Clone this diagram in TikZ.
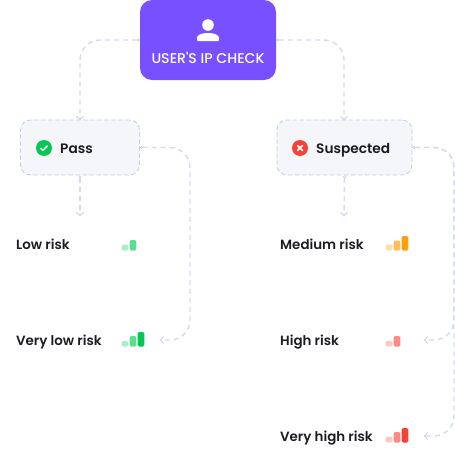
\documentclass[tikz,border=0pt]{standalone}
\usepackage{fontspec}
\setmainfont{Poppins}[UprightFont=* SemiBold]
\newfontfamily\medfont{Poppins}[UprightFont=* Medium]
\usetikzlibrary{arrows.meta}
\definecolor{purp}{HTML}{7950FF}
\definecolor{wire}{HTML}{D3DAEA}
\definecolor{edge}{HTML}{C2CCE4}
\definecolor{boxfill}{HTML}{F5F6FA}
\definecolor{ink}{HTML}{1B1C22}
\definecolor{gA}{HTML}{A9F0C6}\definecolor{gB}{HTML}{5EDD8F}\definecolor{gC}{HTML}{05C755}
\definecolor{oA}{HTML}{FFDDA8}\definecolor{oB}{HTML}{FFBE5C}\definecolor{oC}{HTML}{FF9F0A}
\definecolor{rA}{HTML}{FFC7C2}\definecolor{rB}{HTML}{FB8A80}\definecolor{rC}{HTML}{F44336}
\tikzset{
  x=1pt,y=-1pt,
  topbox/.style={fill=purp,rounded corners=12pt,minimum width=136pt,minimum height=80pt,inner sep=0pt},
  choice/.style={draw=edge,fill=boxfill,line width=0.8pt,dash pattern=on 4.5pt off 2.5pt,rounded corners=10pt,minimum height=55pt,inner sep=0pt},
  wirepath/.style={draw=wire,line width=1.4pt,dash pattern=on 5pt off 4pt,rounded corners=20pt,
    {Circle[open,fill=white,length=3pt,width=3pt,line width=0.5pt,color=edge]}-{Straight Barb[length=3pt,width=7pt,line width=0.8pt,color=edge]}},
  risk/.style={anchor=base west,inner sep=0pt,text=ink,font=\fontsize{13.4}{15}\selectfont},
  chip/.style={font=\fontsize{13.7}{15}\selectfont,text=ink,anchor=base west,inner sep=0pt},
  bar/.style={rounded corners=1.5pt},
}
\newcommand{\bars}[8]{% x, ybottom, h1,h2,h3, c1,c2,c3
  \fill[bar,#6] (#1-0.3,#2) rectangle ++(6.6,-#3);
  \fill[bar,#7] (#1+7.7,#2) rectangle ++(6.6,-#4);
  \ifx\relax#8\relax\else\fill[bar,#8] (#1+15.7,#2) rectangle ++(6.6,-#5);\fi
}
\begin{document}
\begin{tikzpicture}
\useasboundingbox (0,0) rectangle (455,464);
\node[topbox] (top) at (208,40) {};
\node[choice,minimum width=119pt] (pass) at (80,147.5) {};
\node[choice,minimum width=135pt] (sus) at (344.5,147.5) {};
% coordinates
\coordinate (passin) at (80,120);
\coordinate (susin) at (344,120);
\coordinate (lowin) at (80,216);
\coordinate (medin) at (344,216);
\coordinate (cA) at (190,340);
\coordinate (vlin) at (160,340);
\coordinate (cB) at (454,340);
\coordinate (hin) at (424,340);
\coordinate (cC) at (454,436);
\coordinate (vhin) at (424,436);
% connectors
\draw[wirepath] (top.west |- 0,40) -| (passin);
\draw[wirepath] (top.east |- 0,40) -| (susin);
\draw[wirepath] (pass.south) -- (lowin);
\draw[wirepath] (sus.south) -- (medin);
\draw[wirepath] (pass.east) -| (cA) -- (vlin);
\draw[wirepath] (sus.east) -| (cB) -- (hin);
\draw[wirepath] (sus.east) -| (cC) -- (vhin);
% person
\fill[white] (208,25) circle (5.8);
\fill[white,rounded corners=0.8pt] (197,41) -- (197,38.5) .. controls (197,35) and (202,33) .. (208,33) .. controls (214,33) and (219,35) .. (219,38.5) -- (219,41) -- cycle;
\node[text=white,inner sep=0pt,font=\medfont\fontsize{14.1}{15}\selectfont] (toplabel) at (208,58) {USER'S IP CHECK};
% pass
\fill[gC] (44,148) circle (8);
\draw[white,line width=1.5pt,line cap=round,line join=round] (40.8,148.3) -- (43,150.4) -- (47.2,146);
\node[chip] (passlabel) at (60,153) {Pass};
% suspected
\fill[rC] (300,148) circle (8);
\draw[white,line width=1.7pt,line cap=round] (297.6,145.6) -- (302.4,150.4) (302.4,145.6) -- (297.6,150.4);
\node[chip] (suslabel) at (316,153) {Suspected};
% labels
\node[risk] (low) at (16,249) {Low risk};
\node[risk] (vlow) at (16,345) {Very low risk};
\node[risk] (med) at (280,249) {Medium risk};
\node[risk] (high) at (280,345) {High risk};
\node[risk] (vhigh) at (280,441) {Very high risk};
% bars
\bars{122}{250.5}{6}{10.5}{0}{gA}{gB}{}
\bars{122}{346.5}{5.5}{10.5}{14.5}{gA}{gB}{gC}
\bars{386}{250.5}{6}{10}{14.5}{oA}{oB}{oC}
\bars{386}{346.5}{5.5}{10.5}{0}{rA}{rB}{}
\bars{386}{442.5}{5.8}{10.5}{14.5}{rA}{rB}{rC}
\end{tikzpicture}
\end{document}
